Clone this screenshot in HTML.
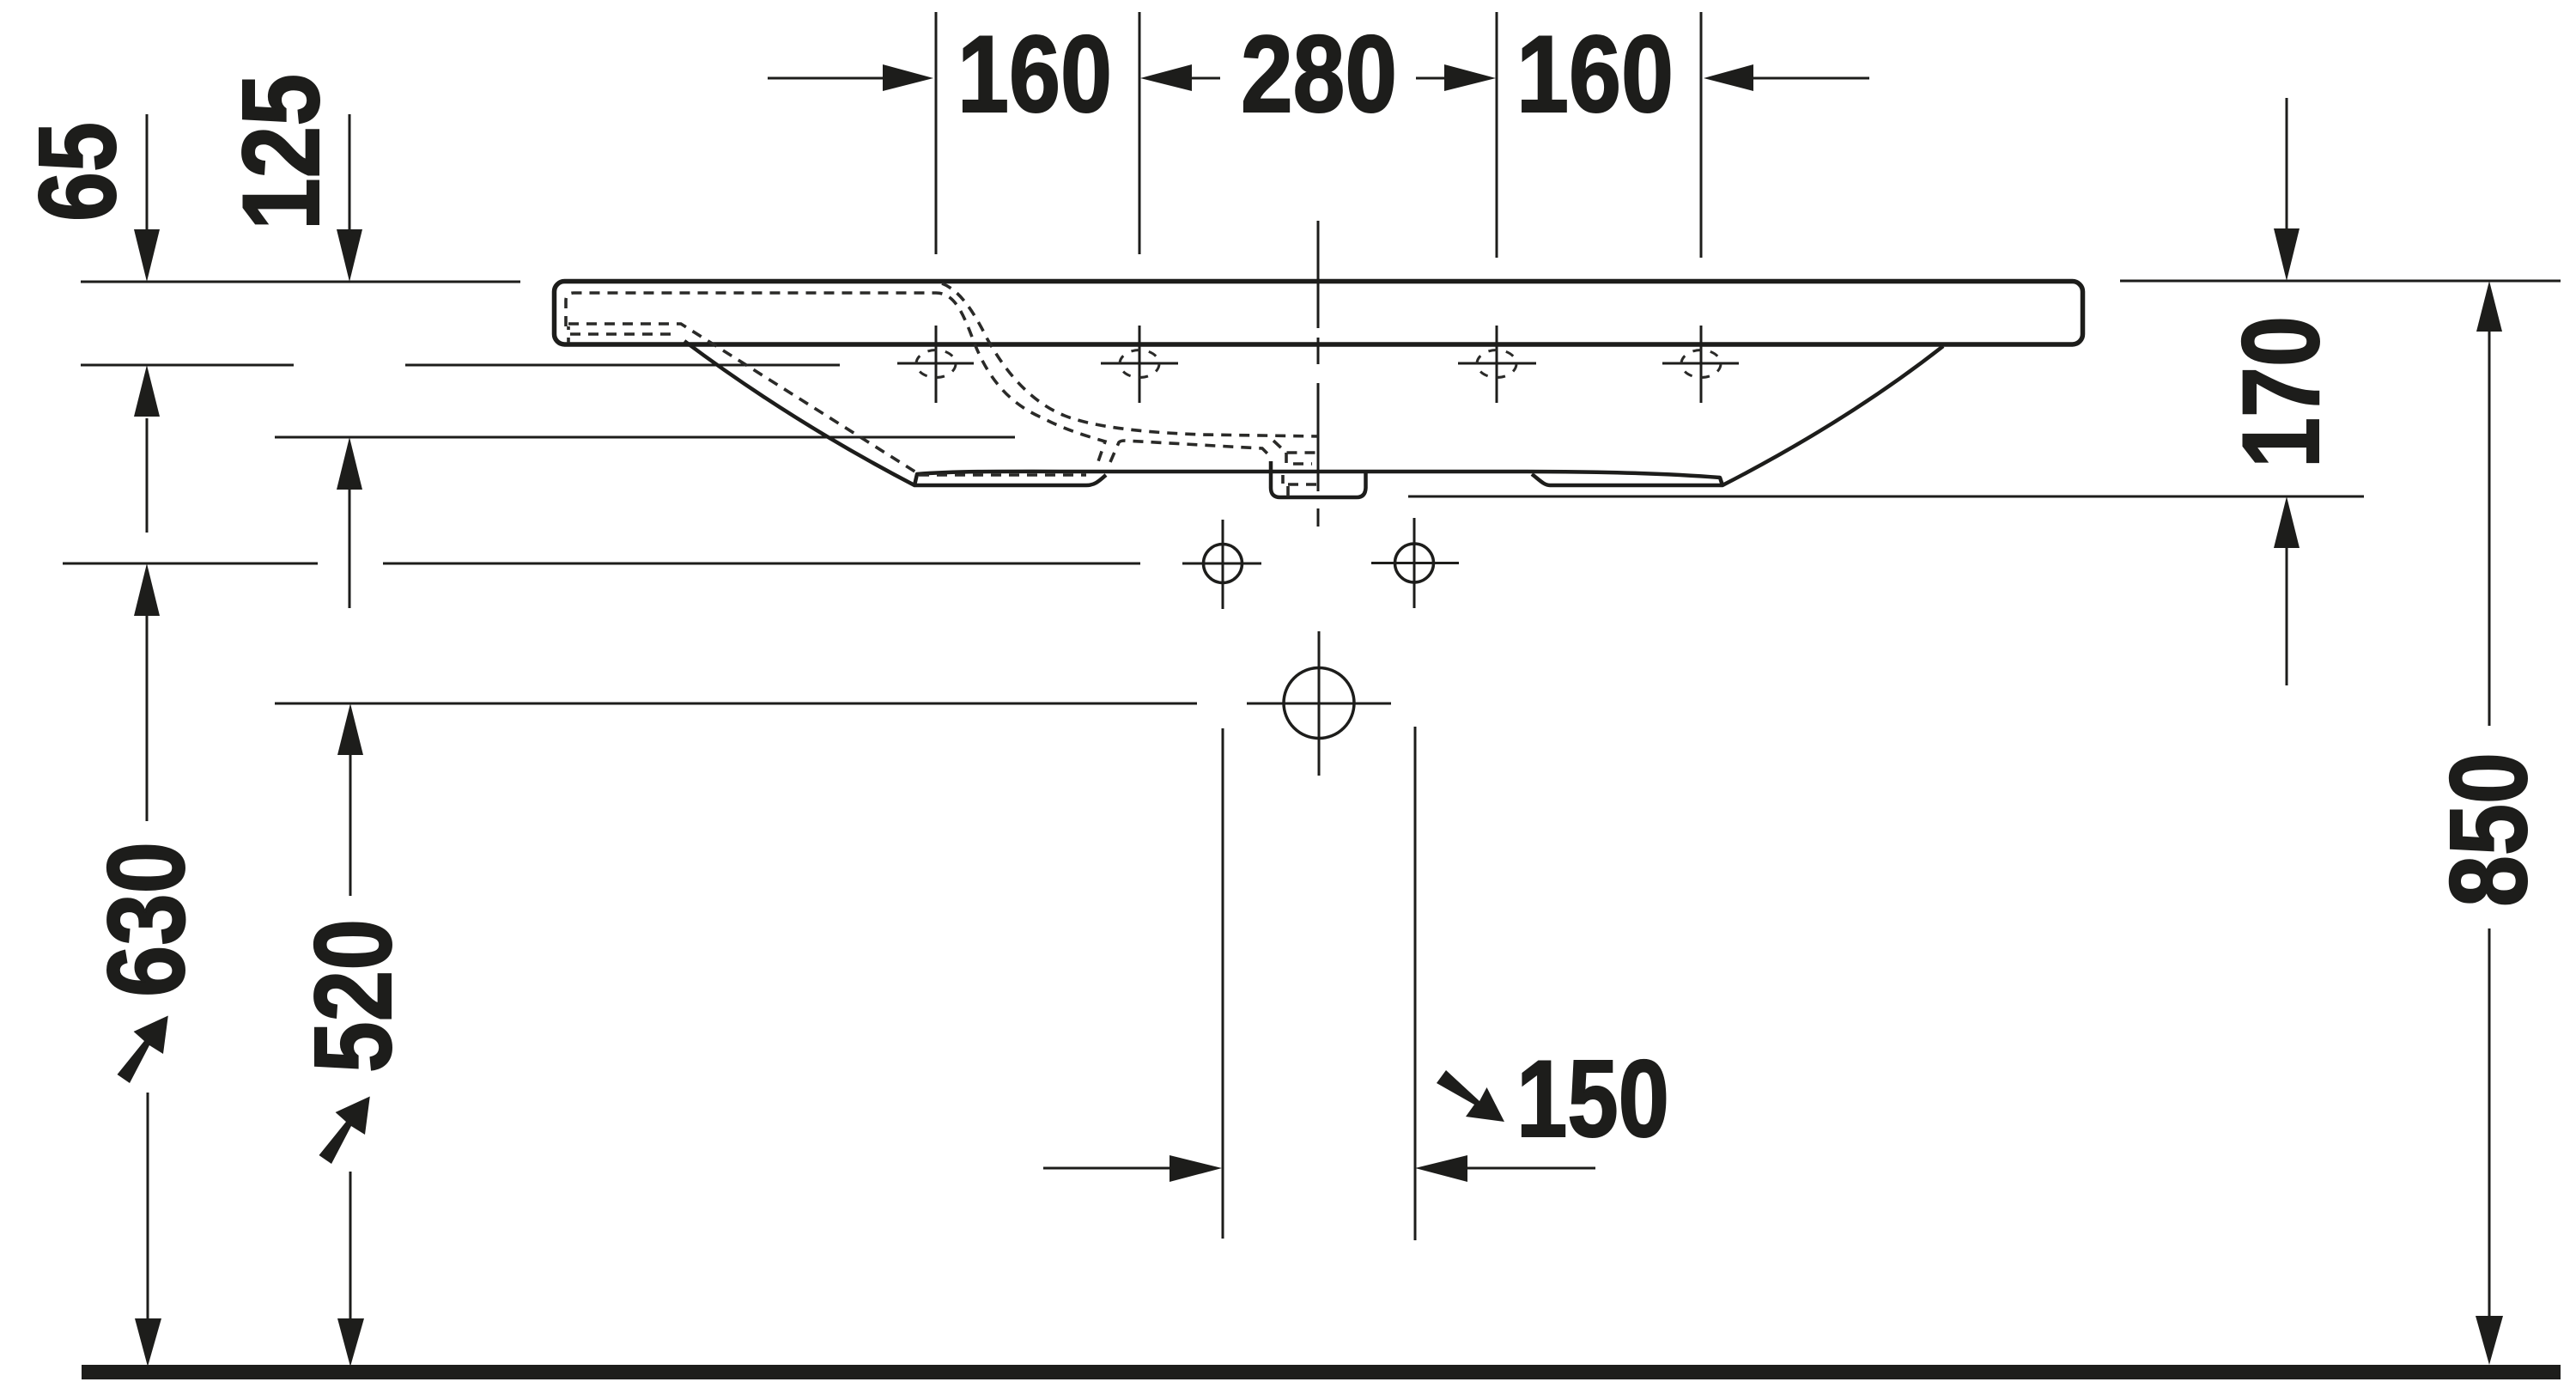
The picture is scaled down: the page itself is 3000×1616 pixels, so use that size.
<!DOCTYPE html>
<html><head><meta charset="utf-8"><style>
html,body{margin:0;padding:0;background:#fff}
svg{display:block}
text{font-family:"Liberation Sans",Arial,sans-serif;font-weight:700;font-size:127px;fill:#1d1d1b;stroke:#1d1d1b;stroke-width:2px}
.d{fill:none;stroke:#1d1d1b;stroke-width:3}
.o{fill:none;stroke:#1d1d1b;stroke-width:5.500;stroke-linejoin:round}
.b{fill:none;stroke:#1d1d1b;stroke-width:4.500;stroke-linejoin:round}
.t{fill:none;stroke:#1d1d1b;stroke-width:3.500}
.h{fill:none;stroke:#2a2a28;stroke-width:3.600;stroke-dasharray:12 9}
.c{fill:none;stroke:#2a2a28;stroke-width:3;stroke-dasharray:10 10.700}
.a{fill:#1d1d1b;stroke:none}
</style></head><body>
<svg width="3000" height="1616" viewBox="0 0 3000 1616" xmlns="http://www.w3.org/2000/svg">
<rect width="3000" height="1616" fill="#fff"/>

<!-- ground -->
<rect class="a" x="95" y="1589" width="2887" height="17"/>

<!-- dimension lines horizontal -->
<path class="d" d="M94 328H606M94 425H342M472 425H978M320 509H1182M73 656H370M446 656H1328M320 819H1394M2469 327H2982M1640 578H2753"/>

<!-- vertical extension lines -->
<path class="d" d="M1090 14V296M1327 14V296M1743 14V300M1981 14V300M1424 848V1442M1648 846V1444"/>
<!-- centre line -->
<path class="d" d="M1535 257V382M1535 393V424M1535 446V572M1535 592V613M1536 735V903"/>

<!-- horizontal top dims -->
<path class="d" d="M894 91H1030M1388 91H1421M1649 91H1684M2040 91H2177M1215 1360H1364M1706 1360H1858"/>
<polygon class="a" points="1087,91 1028,75 1028,106"/>
<polygon class="a" points="1328,91 1388,75 1388,106"/>
<polygon class="a" points="1742,91 1682,75 1682,106"/>
<polygon class="a" points="1984,91 2042,75 2042,106"/>
<polygon class="a" points="1423,1360 1362,1345 1362,1376"/>
<polygon class="a" points="1648,1360 1709,1345 1709,1376"/>

<!-- vertical arrows -->
<path class="d" d="M171 133V270M407 133V270M171 487V620M407 570V708M171 717V956M172 1272V1535M408 879V1043M408 1364V1535M2663 114V270M2663 636V798M2899 385V845M2899 1081V1535"/>
<polygon class="a" points="171,328 156,267 186,267"/>
<polygon class="a" points="407,328 392,267 422,267"/>
<polygon class="a" points="171,425 156,485 186,485"/>
<polygon class="a" points="407,509 392,570 422,570"/>
<polygon class="a" points="171,656 156,717 186,717"/>
<polygon class="a" points="408,819 393,879 423,879"/>
<polygon class="a" points="172,1591 157,1535 188,1535"/>
<polygon class="a" points="408,1591 393,1535 424,1535"/>
<polygon class="a" points="2663,327 2648,266 2678,266"/>
<polygon class="a" points="2663,578 2648,638 2678,638"/>
<polygon class="a" points="2899,327 2884,386 2914,386"/>
<polygon class="a" points="2899,1589 2883,1532 2915,1532"/>

<!-- diameter arrows -->
<polygon class="a" points="136.500,1251 168,1212 155.600,1201 195.800,1182.500 190,1227 174,1217 151,1261"/>
<polygon class="a" points="371.500,1345 403,1306 390.600,1295 430.800,1276.500 425,1321 409,1311 386,1355"/>
<polygon class="a" points="1673,1261 1684,1246 1723,1282 1731.500,1266 1752,1306 1707,1300 1717,1286"/>

<!-- basin -->
<rect class="o" x="645.500" y="327.500" width="1780" height="73.500" rx="12" ry="12"/>
<path class="b" d="M797 397Q921 490 1065 565H1265C1275 565 1280 560 1288 553M1065 565L1068 552C1120 548 1180 549 1288 549H1720C1780 549 1900 548 2003 556L2006 565H1805C1798 565 1792 558 1784 552M2263 403Q2152 490 2006 565"/>
<path class="b" d="M1480 537V568Q1480 579 1491 579H1580Q1590 579 1590.500 568V549"/>

<!-- hidden dashed -->
<path class="h" d="M659 380V350Q659 341 668 341H1090C1110 341 1120 360 1133 395C1150 440 1175 470 1215 487C1240 500 1260 506 1287 514L1277 543"/>
<path class="h" d="M662 377H793L1067 550"/>
<path class="h" d="M664 389H790"/>
<path class="h" d="M662 380V384M662 393V399"/>
<path class="h" d="M1097 330C1115 337 1130 355 1150 395C1175 440 1205 470 1240 484C1275 498 1340 504 1400 506L1535 508"/>
<path class="h" d="M1293 538L1303 515Q1305 513 1310 513L1433 520L1470 522L1478 530"/>
<path class="h" d="M1483 513L1498 527H1535M1498 527V540H1528M1494 553V563M1500 564H1535M1500 566V578"/>
<path class="h" stroke-width="3" d="M1070 553H1265"/>

<!-- hole crosses -->
<path class="d" d="M1090 379V469M1045 423H1134M1327 379V469M1282 423H1372M1743 379V469M1698 423H1789M1981 379V469M1936 423H2025"/>
<ellipse class="c" cx="1090" cy="423.500" rx="23" ry="16"/>
<ellipse class="c" cx="1327" cy="423.500" rx="23" ry="16"/>
<ellipse class="c" cx="1743" cy="423.500" rx="23" ry="16"/>
<ellipse class="c" cx="1981" cy="423.500" rx="23" ry="16"/>

<!-- circles -->
<circle class="t" cx="1424" cy="656" r="22.500"/>
<circle class="t" cx="1647" cy="655.500" r="22.500"/>
<circle class="t" cx="1536" cy="818.500" r="41"/>
<path class="d" d="M1424 605V709M1377 656H1469M1647 603V708M1597 655.500H1699M1452 819H1620"/>

<!-- labels -->
<text x="1115" y="130" textLength="180" lengthAdjust="spacingAndGlyphs">160</text>
<text x="1445" y="130" textLength="182" lengthAdjust="spacingAndGlyphs">280</text>
<text x="1766" y="130" textLength="183" lengthAdjust="spacingAndGlyphs">160</text>
<text x="1766" y="1323" textLength="178" lengthAdjust="spacingAndGlyphs">150</text>
<text transform="translate(134,258) rotate(-90)" textLength="116" lengthAdjust="spacingAndGlyphs">65</text>
<text transform="translate(371,268) rotate(-90)" textLength="182" lengthAdjust="spacingAndGlyphs">125</text>
<text transform="translate(214,1161) rotate(-90)" textLength="181" lengthAdjust="spacingAndGlyphs">630</text>
<text transform="translate(455,1249) rotate(-90)" textLength="179" lengthAdjust="spacingAndGlyphs">520</text>
<text transform="translate(2700,545) rotate(-90)" textLength="177" lengthAdjust="spacingAndGlyphs">170</text>
<text transform="translate(2942,1056) rotate(-90)" textLength="180" lengthAdjust="spacingAndGlyphs">850</text>
</svg>
</body></html>
